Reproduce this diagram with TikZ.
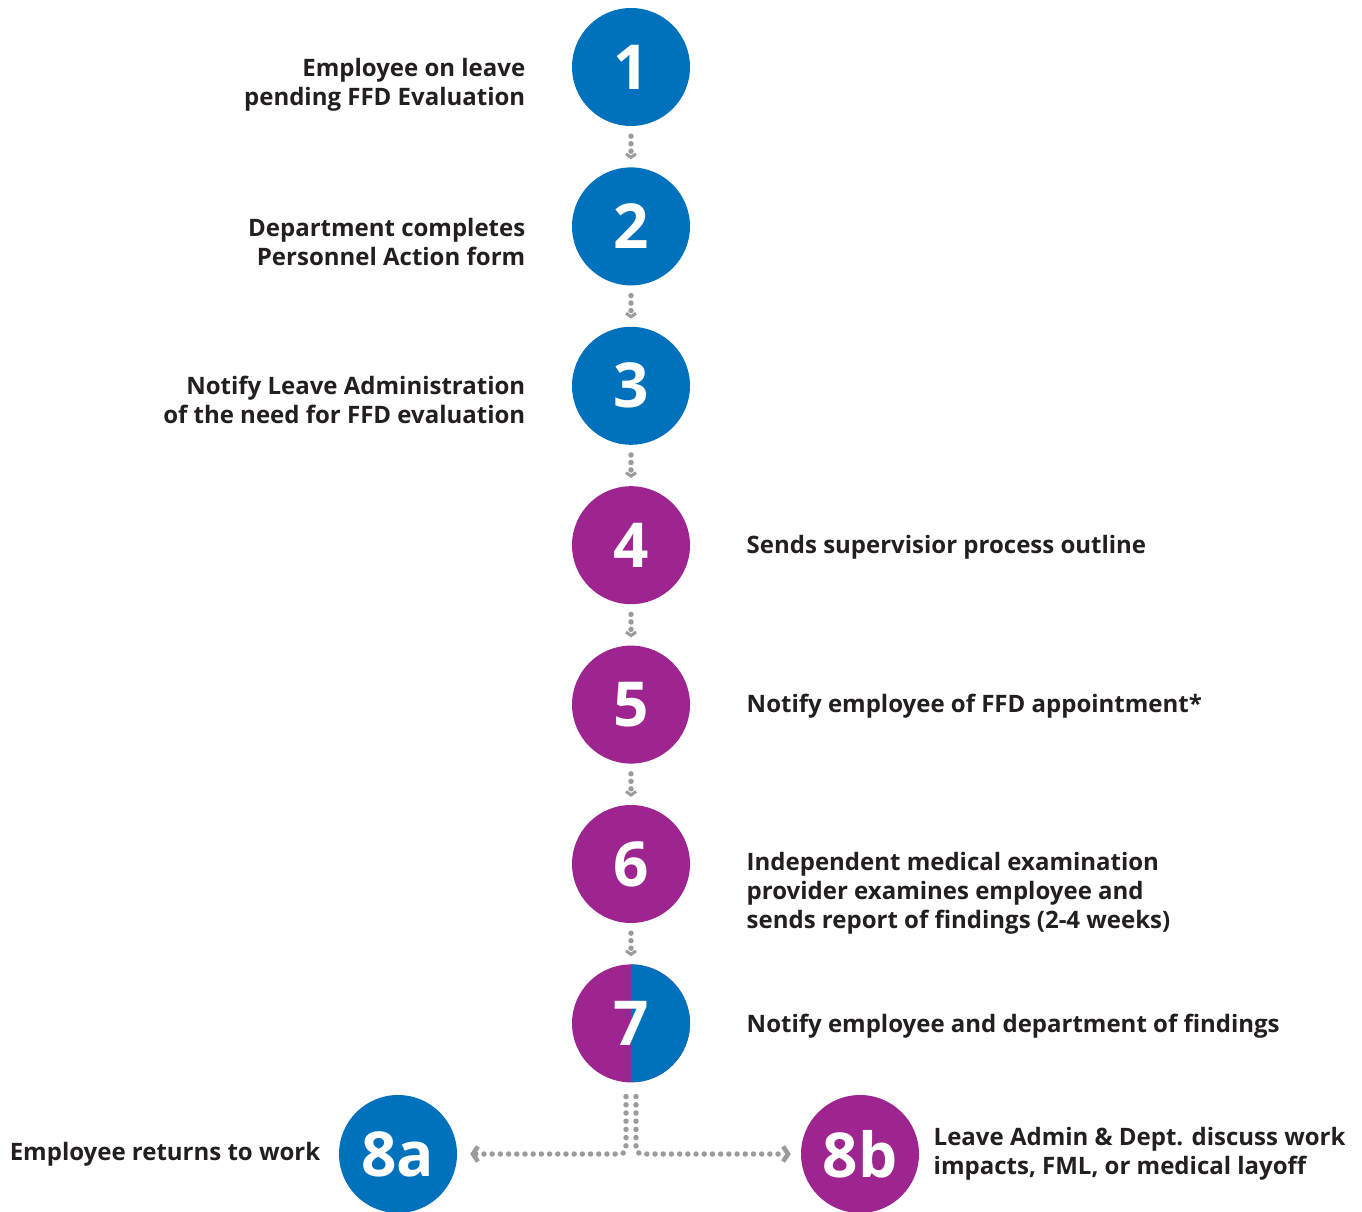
\documentclass[tikz,border=0pt]{standalone}
\usepackage{fontspec}
\setmainfont{Open Sans}
\usetikzlibrary{positioning,arrows.meta}

\definecolor{stepblue}{HTML}{0071BC}
\definecolor{steppurple}{HTML}{9E2590}
\definecolor{dotgray}{HTML}{9B9B9E}
\definecolor{ink}{HTML}{231F20}

\tikzset{
  num/.style={circle,minimum size=118pt,inner sep=0pt,text=white,
    font=\fontsize{62}{62}\selectfont\bfseries},
  lefttext/.style={align=right,text=ink,font=\fontsize{24}{29}\selectfont\bfseries},
  righttext/.style={align=left,text=ink,font=\fontsize{24}{29}\selectfont\bfseries},
  flow/.style={dotgray,line width=5.5pt,line cap=round,dash pattern=on 0pt off 8.2pt},
  small tip/.style={-{Straight Barb[length=3.5pt,width=10pt,line width=3pt]}},
  big tip/.style={-{Straight Barb[length=5pt,width=15pt,line width=4.5pt]}},
}

\begin{document}
\begin{tikzpicture}[x=1pt,y=1pt,node distance=41pt]
\useasboundingbox (0,0) rectangle (1362,1211);

% steps
\node    (c1)    [num,fill=stepblue]   at (631,1144)    {1};
\node    (c2)    [num,fill=stepblue,below=of c1]        {2};
\node    (c3)    [num,fill=stepblue,below=of c2]        {3};
\node    (c4)    [num,fill=steppurple,below=of c3]      {4};
\node    (c5)    [num,fill=steppurple,below=of c4]      {5};
\node    (c6)    [num,fill=steppurple,below=of c5]      {6};
\node    (c7)    [num,fill=steppurple,below=of c6,
                  path picture={\fill[stepblue] (path picture bounding box.north)
                                rectangle (path picture bounding box.south east);}] {7};
\node    (c8a)   [num,fill=stepblue]   at (398,57)      {8a};
\node    (c8b)   [num,fill=steppurple] at (860,57)      {8b};

% labels
\node    (t1)    [lefttext,left=43pt of c1,yshift=-18pt]      {Employee on leave\\pending FFD Evaluation};
\node    (t2)    [lefttext,left=43pt of c2,yshift=-16pt]      {Department completes\\Personnel Action form};
\node    (t3)    [lefttext,left=43pt of c3,yshift=-14pt]      {Notify Leave Administration\\of the need for FFD evaluation};
\node    (t4)    [righttext,right=53pt of c4,yshift=-2pt]     {Sends supervisior process outline};
\node    (t5)    [righttext,right=53pt of c5,yshift=-2pt]     {Notify employee of FFD appointment*};
\node    (t6)    [righttext,right=53pt of c6,yshift=-29pt]    {Independent medical examination\\provider examines employee and\\sends report of findings (2-4 weeks)};
\node    (t7)    [righttext,right=53pt of c7,yshift=-3pt]     {Notify employee and department of findings};
\node    (t8a)   [lefttext,left=15pt of c8a]                  {Employee returns to work};
\node    (t8b)   [righttext,right=11pt of c8b]                {Leave Admin \& Dept. discuss work\\impacts, FML, or medical layoff};

% connectors
\foreach \a/\b in {c1/c2,c2/c3,c3/c4,c4/c5,c5/c6,c6/c7}
  \draw[flow,dash pattern=on 0pt off 7.5pt,small tip,shorten <=10pt,shorten >=8pt] (\a) -- (\b);

\coordinate    (ja)    at ([xshift=-5pt,yshift=-14pt]c7.south);
\coordinate    (jb)    at ([xshift=5pt,yshift=-14pt]c7.south);
\draw[flow,big tip,rounded corners=6pt] (ja) |- ([xshift=13pt]c8a.east);
\draw[flow,big tip,rounded corners=6pt] (jb) |- ([xshift=-10pt]c8b.west);
\end{tikzpicture}
\end{document}
